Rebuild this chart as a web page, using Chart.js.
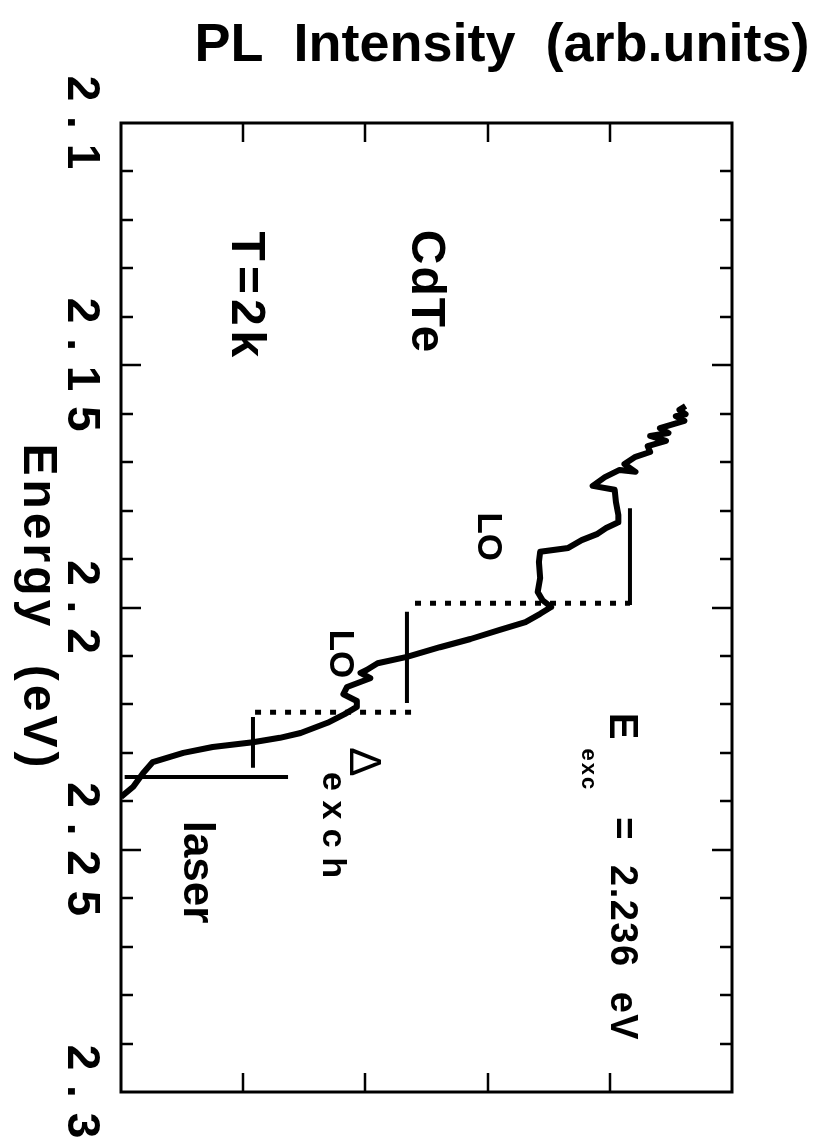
<!DOCTYPE html>
<html>
<head>
<meta charset="utf-8">
<script src="https://cdn.jsdelivr.net/npm/chart.js@4/dist/chart.umd.min.js"></script>
<style>
  html, body { margin: 0; padding: 0; background: #fff; }
  #wrap { width: 816px; height: 1145px; }
</style>
</head>
<body>
<div id="wrap"><canvas id="pl-chart"></canvas></div>
<script>
// PL spectrum: intensity (arb.) vs energy (eV)
const plIntensity = [
  4.62, 4.57, 4.62, 4.54, 4.61, 4.41, 4.48, 4.33, 4.46, 4.31,
  4.33, 4.21, 4.12, 4.21, 4.08, 3.96, 3.86, 4.04, 4.05, 4.07,
  4.07, 3.97, 3.90, 3.77, 3.66, 3.43, 3.42, 3.43, 3.41, 3.45,
  3.52, 3.43, 3.31, 3.10, 2.86, 2.61, 2.34, 2.10, 2.01, 1.96,
  2.04, 1.85, 1.82, 1.93, 1.93, 1.83, 1.69, 1.47, 1.30, 1.08,
  0.75, 0.51, 0.26, 0.18, 0.10, 0.00
];
const plEnergy = [
  2.1584, 2.1592, 2.1601, 2.1605, 2.1615, 2.1630, 2.1640, 2.1646, 2.1656, 2.1667,
  2.1679, 2.1689, 2.1704, 2.1720, 2.1716, 2.1731, 2.1749, 2.1757, 2.1782, 2.1809,
  2.1824, 2.1836, 2.1848, 2.1861, 2.1877, 2.1885, 2.1906, 2.1939, 2.1968, 2.1985,
  2.1999, 2.2013, 2.2030, 2.2046, 2.2065, 2.2082, 2.2102, 2.2115, 2.2129, 2.2135,
  2.2146, 2.2164, 2.2179, 2.2193, 2.2205, 2.2220, 2.2238, 2.2259, 2.2269, 2.2278,
  2.2288, 2.2300, 2.2319, 2.2342, 2.2370, 2.2391
];

// marker lines (solid and dotted), [intensity, energy] end points
const loMarkerA = [[4.165, 2.1795], [4.165, 2.1995]];
const loDotsA = [[2.406, 2.1991], [4.165, 2.1991]];
const loMarkerB = [[2.34, 2.2009], [2.34, 2.2197]];
const loDotsB = [[1.097, 2.2216], [2.406, 2.2216]];
const exchMarker = [[1.08, 2.2226], [1.08, 2.2331]];
const laserLine = [[0.03, 2.2350], [1.367, 2.2350]];

// axes
const energyMin = 2.1;
const energyMax = 2.3;
const energyMajor = [2.1, 2.15, 2.2, 2.25, 2.3];
const energyLabels = ['2 . 1', '2 . 1 5', '2 . 2', '2 . 2 5', '2 . 3'];
const energyMinorStep = 0.01;
const intensityMin = 0;
const intensityMax = 5;
const intensityTicks = [1, 2, 3, 4];

const toPoints = function(pairs) {
  return pairs.map(function(p) { return { x: p[0], y: p[1] }; });
};

const spectrum = plIntensity.map(function(v, i) {
  return { x: v, y: plEnergy[i] };
});

const SANS = '"Liberation Sans", Arial, Helvetica, sans-serif';

// text drawn turned a quarter turn clockwise, as in the figure
const rotatedText = function(ctx, text, x, y, font, spacing) {
  ctx.save();
  ctx.translate(x, y);
  ctx.rotate(Math.PI / 2);
  ctx.font = font;
  ctx.letterSpacing = spacing || '0px';
  ctx.textAlign = 'center';
  ctx.textBaseline = 'middle';
  ctx.fillStyle = '#000';
  ctx.fillText(text, 0, 0);
  ctx.restore();
};

// frame, inward ticks and all the labels
const framePlugin = {
  id: 'framePlugin',
  afterDraw: function(chart) {
    const ctx = chart.ctx;
    const xs = chart.scales.x;
    const ys = chart.scales.y;
    const a = chart.chartArea;

    ctx.save();
    ctx.strokeStyle = '#000';
    ctx.lineCap = 'butt';

    // energy ticks, left and right
    ctx.lineWidth = 2.5;
    const nMinor = Math.round((energyMax - energyMin) / energyMinorStep);
    for (let i = 1; i < nMinor; i++) {
      const e = energyMin + i * energyMinorStep;
      const major = energyMajor.some(function(m) { return Math.abs(m - e) < 1e-6; });
      const len = major ? 20 : 12;
      const py = Math.round(ys.getPixelForValue(e));
      ctx.beginPath();
      ctx.moveTo(a.left, py); ctx.lineTo(a.left + len, py);
      ctx.moveTo(a.right, py); ctx.lineTo(a.right - len, py);
      ctx.stroke();
    }

    // intensity ticks, top and bottom
    intensityTicks.forEach(function(t) {
      const px = Math.round(xs.getPixelForValue(t));
      ctx.beginPath();
      ctx.moveTo(px, a.top); ctx.lineTo(px, a.top + 19);
      ctx.moveTo(px, a.bottom); ctx.lineTo(px, a.bottom - 19);
      ctx.stroke();
    });

    // frame
    ctx.lineWidth = 3;
    ctx.strokeRect(a.left, a.top, a.right - a.left, a.bottom - a.top);
    ctx.restore();

    // energy tick labels
    energyMajor.forEach(function(e, i) {
      rotatedText(ctx, energyLabels[i], a.left - 40, ys.getPixelForValue(e), 'bold 46px ' + SANS, '1px');
    });
    rotatedText(ctx, 'Energy  (eV)', a.left - 84, ys.getPixelForValue(2.2), 'bold 48px ' + SANS, '4px');

    // intensity title, along the top
    ctx.save();
    ctx.font = 'bold 54px ' + SANS;
    ctx.textAlign = 'center';
    ctx.textBaseline = 'middle';
    ctx.fillStyle = '#000';
    ctx.fillText('PL  Intensity  (arb.units)', 502, 46);
    ctx.restore();

    // annotations placed in data coordinates
    const at = function(i, e) { return [xs.getPixelForValue(i), ys.getPixelForValue(e)]; };
    let p;
    p = at(2.488, 2.1349); rotatedText(ctx, 'CdTe', p[0], p[1], 'bold 48px ' + SANS, '2px');
    p = at(1.015, 2.1359); rotatedText(ctx, 'T=2k', p[0], p[1], 'bold 48px ' + SANS, '5px');
    p = at(3.003, 2.1854); rotatedText(ctx, 'LO', p[0], p[1], 'bold 35px ' + SANS);
    p = at(1.792, 2.2096); rotatedText(ctx, 'LO', p[0], p[1], 'bold 35px ' + SANS);
    p = at(4.092, 2.2245); rotatedText(ctx, 'E', p[0], p[1], 'bold 40px ' + SANS);
    p = at(3.822, 2.2335); rotatedText(ctx, 'exc', p[0], p[1], 'bold 22px ' + SANS, '2px');
    p = at(4.092, 2.2664); rotatedText(ctx, '=  2.236  eV', p[0], p[1], 'bold 38px ' + SANS, '1.5px');
    p = at(1.972, 2.2319); rotatedText(ctx, '\u0394', p[0], p[1], '44px ' + SANS);
    p = at(1.727, 2.2449); rotatedText(ctx, 'e x c h', p[0], p[1], 'bold 34px ' + SANS);
    p = at(0.614, 2.2546); rotatedText(ctx, 'laser', p[0], p[1], 'bold 44px ' + SANS);
  }
};

const segment = function(pairs, dash) {
  return {
    data: toPoints(pairs),
    showLine: true,
    borderColor: '#000',
    borderWidth: dash ? 5 : 4,
    borderDash: dash ? [6, 9] : [],
    borderCapStyle: 'butt',
    pointRadius: 0,
    fill: false
  };
};

const plChart = new Chart(document.getElementById('pl-chart'), {
  type: 'scatter',
  data: {
    datasets: [
      {
        data: spectrum,
        showLine: true,
        borderColor: '#000',
        borderWidth: 6,
        borderJoinStyle: 'round',
        pointRadius: 0,
        tension: 0,
        fill: false
      },
      segment(loMarkerA, false),
      segment(loDotsA, true),
      segment(loMarkerB, false),
      segment(loDotsB, true),
      segment(exchMarker, false),
      segment(laserLine, false)
    ]
  },
  options: {
    responsive: true,
    maintainAspectRatio: false,
    animation: false,
    layout: { padding: { left: 121, top: 123, right: 84, bottom: 53 } },
    plugins: { legend: { display: false }, tooltip: { enabled: false } },
    scales: {
      x: { type: 'linear', display: false, min: intensityMin, max: intensityMax },
      y: { type: 'linear', display: false, min: energyMin, max: energyMax, reverse: true }
    }
  },
  plugins: [framePlugin]
});
</script>
</body>
</html>
